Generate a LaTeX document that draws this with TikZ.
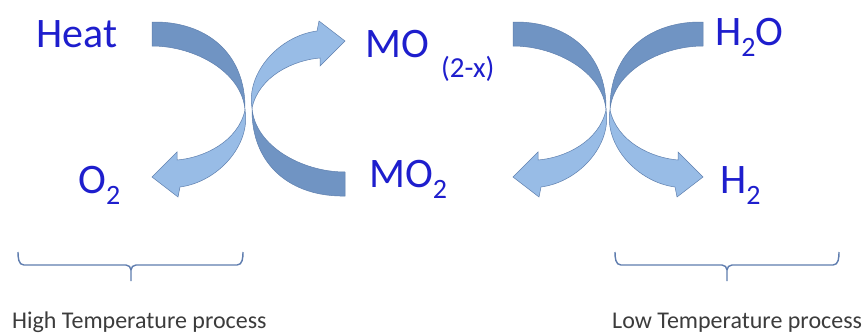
\documentclass[tikz,border=0pt]{standalone}
\usepackage{fontspec}
\setmainfont{Carlito}
\definecolor{lblblue}{RGB}{30,30,205}
\definecolor{darkband}{RGB}{112,148,195}
\definecolor{lightband}{RGB}{152,188,230}
\definecolor{bandedge}{RGB}{95,128,175}
\definecolor{brkcol}{RGB}{95,125,175}
\definecolor{captext}{RGB}{60,60,60}
\newcommand{\chemsub}[1]{\raisebox{-11pt}{\fontsize{28}{28}\selectfont #1}}
\newcommand{\drawcurvarrow}{%
    \filldraw[fill=darkband, draw=bandedge, line width=0.5pt]
      (152,22) .. controls (205,21) and (246,52) .. (245,110)
      .. controls (242,72) and (195,46) .. (152,46) -- cycle;
    \filldraw[fill=lightband, draw=bandedge, line width=0.5pt]
      (245,110) .. controls (251,145) and (218,182) .. (180,187)
      -- (178,197) -- (152,177) -- (177,152) -- (177,160)
      .. controls (203,158) and (238,142) .. (245,110) -- cycle;
}
\tikzset{
  lbl/.style={text=lblblue, font=\fontsize{42}{42}\selectfont, inner sep=0pt, anchor=base west},
  smalllbl/.style={text=lblblue, font=\fontsize{29}{29}\selectfont, inner sep=0pt, anchor=base west},
  captxt/.style={text=captext, font=\fontsize{24}{24}\selectfont, inner sep=0pt, anchor=base west},
  brace/.style={draw=brkcol, line width=1.4pt}
}
\begin{document}
\begin{tikzpicture}[x=1pt, y=-1pt]
\useasboundingbox (0,0) rectangle (864,335);
\fill[white] (0,0) rectangle (864,335);

% left pair
\begin{scope}
  \drawcurvarrow
\end{scope}
\begin{scope}[shift={(497,218)}, xscale=-1, yscale=-1]
  \drawcurvarrow
\end{scope}
% right pair
\begin{scope}[shift={(361,0)}]
  \drawcurvarrow
\end{scope}
\begin{scope}[shift={(855,0)}, xscale=-1]
  \drawcurvarrow
\end{scope}

% labels
\node[lbl] (heat) at (36,47) {Heat};
\node[lbl] (o2) at (78,193) {O\chemsub{2}};
\node[lbl] (mo) at (365,57) {MO};
\node[smalllbl] (sub) at (441,77) {(2-x)};
\node[lbl] (mo2) at (369,187) {MO\chemsub{2}};
\node[lbl] (h2o) at (715,45) {H\chemsub{2}O};
\node[lbl] (h2) at (720,193) {H\chemsub{2}};

% braces
\draw[brace] (18,252) to[out=-90,in=180] (24,265) -- (126,265)
  to[out=0,in=90] (131,270) -- (131,281);
\draw[brace] (131,270) to[out=90,in=180] (136,265) -- (237,265)
  to[out=0,in=-90] (243,252);
\draw[brace] (615,252) to[out=-90,in=180] (621,265) -- (722,265)
  to[out=0,in=90] (727,270) -- (727,281);
\draw[brace] (727,270) to[out=90,in=180] (732,265) -- (833,265)
  to[out=0,in=-90] (839,252);

\node[captxt] (high) at (12,328) {High Temperature process};
\node[captxt] (low) at (612,328) {Low Temperature process};
\end{tikzpicture}
\end{document}
